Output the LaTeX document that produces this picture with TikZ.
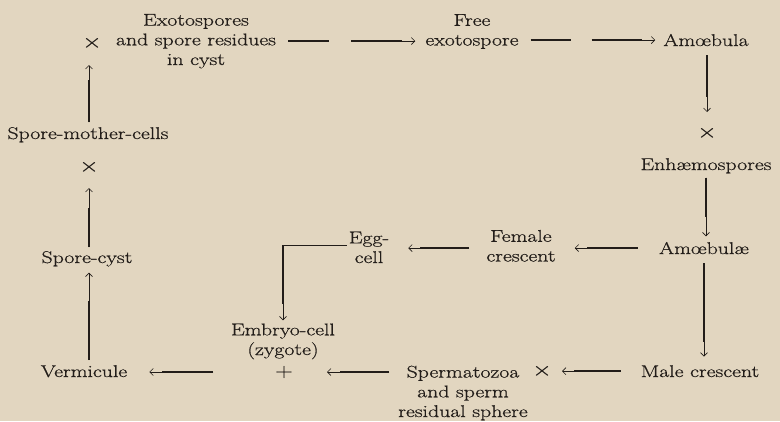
\documentclass[tikz,border=0pt]{standalone}
\usepackage{fontspec}
\setmainfont{Latin Modern Roman}[FakeStretch=1.28,FakeBold=0.6]
\usetikzlibrary{arrows.meta}
\definecolor{bg}{HTML}{E2D6C0}
\definecolor{ink}{HTML}{221D19}
\tikzset{
 lbl/.style={inner sep=0pt, text=ink, font=\fontsize{17}{19.7}\selectfont, align=center, anchor=base},
 crs/.style={inner sep=0pt, text=ink, font=\fontsize{21}{21}\selectfont},
 thinarr/.style={draw=ink, line width=0.6pt, -{Straight Barb[length=3.5pt,width=7pt]}},
 thickln/.style={draw=ink, line width=1.4pt},
 thinln/.style={draw=ink, line width=0.8pt},
}
\begin{document}
\begin{tikzpicture}[x=1pt,y=-1pt]
\fill[bg] (0,0) rectangle (780,421);
\useasboundingbox (0,0) rectangle (780,421);
% nodes (base anchor = baseline of the last line)
\node[lbl] (exo) at (196,65) {Exotospores\\and spore residues\\in cyst};
\node[crs] (crossA) at (92,43) {×};
\node[lbl] (free) at (472,45.5) {Free\\exotospore};
\node[lbl] (amoebula) at (706,46) {Amœbula};
\node[crs] (crossB) at (707,133) {×};
\node[lbl] (enh) at (706,170) {Enhæmospores};
\node[lbl] (amoebulae) at (704,254) {Amœbulæ};
\node[lbl] (female) at (521,261.5) {Female\\crescent};
\node[lbl] (egg) at (369,263) {Egg-\\cell};
\node[lbl] (embryo) at (283,355) {Embryo-cell\\(zygote)};
\node[crs, font=\fontsize{19}{19}\selectfont] (plus) at (284,372) {+};
\node[lbl] (vermicule) at (84,377) {Vermicule};
\node[lbl] (sperm) at (463,417) {Spermatozoa\\and sperm\\residual sphere};
\node[crs] (crossC) at (542,371) {×};
\node[lbl] (male) at (700,377) {Male crescent};
\node[lbl] (spmc) at (88,139) {Spore-mother-cells};
\node[crs] (crossD) at (89,167) {×};
\node[lbl] (sporecyst) at (87,263) {Spore-cyst};
% 1 exo -> free
\draw[thickln, dash pattern=on 41pt off 22pt on 200pt, shorten >=13pt] ([xshift=12,yshift=-1]exo.east |- amoebula.west) -- ([xshift=-10,yshift=-1]amoebula.west -| free.west);
\draw[thinarr, shorten <=100pt] ([xshift=12,yshift=-1]exo.east |- amoebula.west) -- ([xshift=-10,yshift=-1]amoebula.west -| free.west);
% 2 free -> amoebula
\draw[thickln, dash pattern=on 40pt off 21pt on 200pt, shorten >=13pt] ([xshift=12]amoebula.west -| free.east) -- ([xshift=-8]amoebula.west);
\draw[thinarr, shorten <=98pt] ([xshift=12]amoebula.west -| free.east) -- ([xshift=-8]amoebula.west);
% 3 amoebula -> crossB
\draw[thickln, shorten >=15pt] ([yshift=-9]amoebula.south -| crossB) -- ([yshift=21]crossB.center);
\draw[thinarr] ([yshift=-9]amoebula.south -| crossB) -- ([yshift=21]crossB.center);
% 5 enh -> amoebulae
\draw[thickln, shorten >=19pt] ([yshift=-4]enh.south) -- ([yshift=5.5]amoebulae.north -| enh.south);
\draw[thinarr] ([yshift=-4]enh.south) -- ([yshift=5.5]amoebulae.north -| enh.south);
% 6 amoebulae -> male
\draw[thickln, shorten >=15pt] ([yshift=-9]amoebulae.south) -- ([yshift=8.5]male.north -| amoebulae.south);
\draw[thinarr] ([yshift=-9]amoebulae.south) -- ([yshift=8.5]male.north -| amoebulae.south);
% 7 amoebulae -> female
\draw[thickln, shorten >=12pt] ([xshift=-21]amoebulae.west) -- ([xshift=19]amoebulae.west -| female.east);
\draw[thinarr] ([xshift=-21]amoebulae.west) -- ([xshift=19]amoebulae.west -| female.east);
% 8 female -> egg
\draw[thickln, shorten >=12pt] ([xshift=-17]amoebulae.west -| female.west) -- ([xshift=19]amoebulae.west -| egg.east);
\draw[thinarr] ([xshift=-17]amoebulae.west -| female.west) -- ([xshift=19]amoebulae.west -| egg.east);
% 9 egg -> embryo
\draw[thinln] ([xshift=-2,yshift=2]egg.west) -- ([yshift=2]egg.west -| embryo.north);
\draw[thickln, shorten >=16pt] ([yshift=2]egg.west -| embryo.north) -- ([yshift=3]embryo.north);
\draw[thinarr] ([yshift=2]egg.west -| embryo.north) -- ([yshift=3]embryo.north);
% 10 male -> crossC
\draw[thickln, shorten >=12pt] ([xshift=-20]male.west) -- ([xshift=20]male.west -| crossC.center);
\draw[thinarr] ([xshift=-20]male.west) -- ([xshift=20]male.west -| crossC.center);
% 12 sperm -> plus
\draw[thickln, shorten >=13pt] ([xshift=-9]sperm.west |- plus.center) -- ([xshift=43]plus.center);
\draw[thinarr] ([xshift=-9]sperm.west |- plus.center) -- ([xshift=43]plus.center);
% 13 plus -> vermicule
\draw[thickln, shorten >=13pt] ([xshift=-71]plus.center) -- ([xshift=22]vermicule.east |- plus.center);
\draw[thinarr] ([xshift=-71]plus.center) -- ([xshift=22]vermicule.east |- plus.center);
% 14 vermicule -> sporecyst
\draw[thickln, shorten >=28pt] ([yshift=5]vermicule.north -| crossD) -- ([yshift=-6]sporecyst.south -| crossD);
\draw[thinarr] ([yshift=5]vermicule.north -| crossD) -- ([yshift=-6]sporecyst.south -| crossD);
% 15 sporecyst -> crossD
\draw[thickln, shorten >=20pt] ([yshift=3.5]sporecyst.north -| crossD) -- ([yshift=-21]crossD.center);
\draw[thinarr] ([yshift=3.5]sporecyst.north -| crossD) -- ([yshift=-21]crossD.center);
% 16 spmc -> crossA
\draw[thickln, shorten >=15pt] ([yshift=4.5]spmc.north -| crossD) -- ([yshift=-22]crossA.center -| crossD);
\draw[thinarr] ([yshift=4.5]spmc.north -| crossD) -- ([yshift=-22]crossA.center -| crossD);
\end{tikzpicture}
\end{document}
